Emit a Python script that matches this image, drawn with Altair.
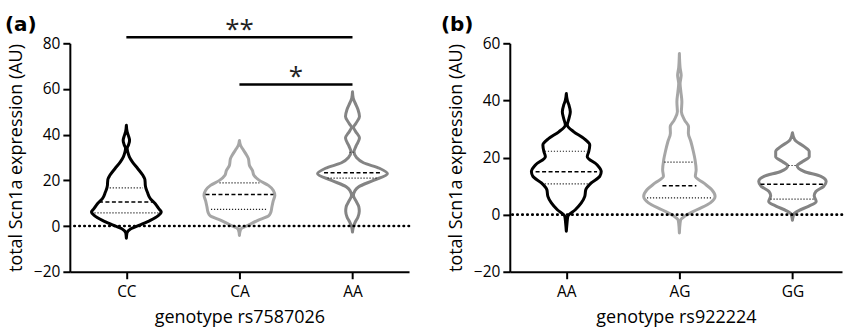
import json
import altair as alt
import pandas as pd

# ---------------- data ----------------
tags = ["(a)", "(b)"]
y_title = "total Scn1a expression (AU)"

# Panel (a): genotype rs7587026
geno_a = ["CC", "CA", "AA"]
xtitle_a = "genotype rs7587026"
cc_val = [-5.3, -3.0, -1.2, 0.3, 2.5, 4.6, 6.1, 7.6, 9.8, 12.0, 14.9, 16.0, 17.8, 19.3, 20.5, 22.2, 25.1, 28.1, 30.3, 32.2, 33.9, 35.6, 37.5, 39.4, 41.2, 44.1]
cc_w = [0, 0.6, 4.5, 12.5, 24, 32, 35, 32.5, 29, 24, 21, 20, 19, 18.8, 18.5, 16.5, 11.5, 6, 3, 1.5, 0.8, 2.2, 3.2, 2.2, 0.8, 0]
ca_val = [-4.1, -2.5, -1.2, 0.3, 2.5, 4.6, 6.1, 8.3, 11.2, 13.4, 15.6, 17.8, 20.0, 22.2, 24.4, 26.6, 29.5, 31.7, 33.9, 35.5, 37.5]
ca_w = [0, 0.5, 1.5, 8.5, 18.5, 29.5, 31.5, 32.5, 34, 35.5, 34, 29, 20, 14.5, 13, 10, 9, 6.3, 3, 1, 0]
aaa_val = [-2.6, -0.5, 1.5, 4.0, 6.5, 8.5, 11.0, 13.4, 15.5, 17.1, 20.0, 22.9, 25.3, 27.7, 30.0, 32.5, 35.0, 38.5, 41.5, 43.2, 45.0, 48.0, 51.0, 54.0, 56.0, 58.8]
aaa_w = [0, 0.8, 2.5, 5.5, 6.8, 6.3, 3.5, 1, 2.5, 6, 21, 35, 27, 11, 4, 1.5, 3.5, 7, 3, 1, 3.5, 7, 5.5, 2.5, 0.7, 0]
# quartiles (q1, median, q3) and their half-widths
qa_val = [[5.8, 10.5, 16.7], [7.3, 13.8, 18.9], [21.0, 23.3, 32.3]]
qa_w = [[32, 27.5, 16.7], [28.5, 34, 20], [25, 28.5, 3]]
# significance bars: from, to, value, label
sig_from = [1, 2]
sig_to = [3, 3]
sig_val = [82.6, 62.0]
sig_lab = ["**", "*"]

# Panel (b): genotype rs922224
geno_b = ["AA", "AG", "GG"]
xtitle_b = "genotype rs922224"
aab_val = [-5.8, -3.0, -0.6, 1.7, 4.1, 6.4, 8.7, 11.1, 13.4, 15.1, 17.4, 20.3, 22.1, 24.4, 26.7, 29.0, 31.4, 33.5, 36.0, 38.5, 40.0, 42.4]
aab_w = [0, 0.7, 1.5, 9, 15, 18.5, 19.5, 25, 33.5, 35, 31, 21, 22.5, 23.5, 17.5, 7.5, 1, 2.5, 4, 2.5, 1, 0]
ag_val = [-6.4, -3.0, -1.7, -0.6, 1.7, 4.1, 6.4, 8.7, 11.1, 13.4, 15.7, 19.2, 22.1, 25.6, 28.5, 30.8, 33.1, 36.0, 39.5, 43.0, 45.9, 48.8, 51.5, 56.4]
ag_w = [0, 0.7, 1.5, 5.2, 17.5, 31, 35.8, 32.5, 24.3, 16, 16.8, 15.7, 14, 11.5, 9, 9.2, 5.2, 2, 2.5, 1.5, 0.7, 1.8, 0.7, 0]
gg_val = [-2.0, -0.8, 0.3, 1.5, 2.9, 4.6, 6.6, 8.1, 9.9, 11.6, 13.4, 15.1, 17.1, 18.6, 20.3, 22.1, 23.8, 26.2, 28.7]
gg_w = [0, 0.6, 1.5, 6.8, 16, 23.8, 21.8, 23.5, 31.3, 33.8, 28.5, 11.8, 4.7, 10.2, 16.8, 16.8, 11.8, 2.3, 0]
qb_val = [[10.8, 15.0, 22.2], [5.9, 10.1, 18.4], [5.4, 10.6, 17.2]]
qb_w = [[21.7, 30.8, 21.5], [32.5, 17, 15], [22, 32, 4]]

colors = ["#000000", "#a6a6a6", "#848484"]

# ---------------- styling ----------------
K = 1.0 / 113.33      # violin half-width -> category units
PX_PER_CAT = 113.33
H = 229
FONT = "Open Sans"


def make_panel(tag, tag_dx, genos, profiles, q_vals, q_ws, y_dom, y_ticks,
               x_title, plot_w, sig=None):
    rows = []
    for i, (g, (vals, ws)) in enumerate(zip(genos, profiles)):
        for v, w in zip(vals, ws):
            rows.append({"g": i + 1, "geno": g, "v": v, "w": w})
    vdf = pd.DataFrame(rows)

    qrows = []
    for i, g in enumerate(genos):
        for j, (v, w) in enumerate(zip(q_vals[i], q_ws[i])):
            qrows.append({"g": i + 1, "geno": g, "v": v, "w": w,
                          "kind": "median" if j == 1 else "quartile"})
    qdf = pd.DataFrame(qrows)

    xs = alt.Scale(domain=[0.5, 0.5 + plot_w / PX_PER_CAT], nice=False, zero=False)
    ys = alt.Scale(domain=y_dom, nice=False, zero=False)
    label_expr = json.dumps(genos).replace('"', "'") + "[datum.value - 1]"
    xax = alt.Axis(values=[1, 2, 3], labelExpr=label_expr, title=x_title)
    yax = alt.Axis(values=y_ticks, title=y_title)

    def X(f):
        return alt.X(f, scale=xs, axis=xax)

    def Y(f):
        return alt.Y(f, scale=ys, axis=yax)

    base = alt.Chart(vdf).transform_calculate(
        left=f"datum.g - datum.w * {K}", right=f"datum.g + datum.w * {K}")

    violins = base.mark_area(
        orient="horizontal", interpolate="monotone", fill="transparent",
        strokeWidth=3, strokeJoin="round", strokeCap="round"
    ).encode(
        y=Y("v:Q"),
        x=X("left:Q"),
        x2="right:Q",
        stroke=alt.Stroke("geno:N", scale=alt.Scale(domain=genos, range=colors), legend=None),
    )

    zero = alt.Chart(pd.DataFrame({"z": [0]})).mark_rule(
        color="black", strokeWidth=2.6, strokeDash=[0.5, 4.5], strokeCap="round"
    ).encode(y=Y("z:Q"))

    qbase = alt.Chart(qdf).transform_calculate(
        left=f"datum.g - datum.w * {K}", right=f"datum.g + datum.w * {K}")
    med = qbase.transform_filter("datum.kind == 'median'").mark_rule(
        color="black", strokeWidth=1.5, strokeDash=[4, 2.5]
    ).encode(x=X("left:Q"), x2="right:Q", y=Y("v:Q"))
    qrt = qbase.transform_filter("datum.kind == 'quartile'").mark_rule(
        color="#222222", strokeWidth=1.2, strokeDash=[1.2, 1.8]
    ).encode(x=X("left:Q"), x2="right:Q", y=Y("v:Q"))

    tag_layer = alt.Chart(pd.DataFrame({"t": [tag]})).mark_text(
        align="left", baseline="middle", fontSize=20, fontWeight="bold",
        font="DejaVu Sans", color="black"
    ).encode(text="t:N", x=alt.value(tag_dx), y=alt.value(-18))

    layers = [violins, zero, med, qrt, tag_layer]

    if sig is not None:
        sdf = pd.DataFrame({"a": sig[0], "b": sig[1], "v": sig[2], "lab": sig[3]})
        bars = alt.Chart(sdf).mark_rule(color="black", strokeWidth=2.5).encode(
            x=X("a:Q"), x2="b:Q", y=Y("v:Q"))
        stars = alt.Chart(sdf).transform_calculate(mid="(datum.a + datum.b) / 2").mark_text(
            align="center", baseline="alphabetic", fontSize=26, font=FONT, dy=1, color="#222222"
        ).encode(x=X("mid:Q"), y=Y("v:Q"), text="lab:N")
        layers += [bars, stars]

    return alt.layer(*layers).properties(width=plot_w, height=H)


panel_a = make_panel(tags[0], -65, geno_a,
                     [(cc_val, cc_w), (ca_val, ca_w), (aaa_val, aaa_w)],
                     qa_val, qa_w, [-20, 80], [-20, 0, 20, 40, 60, 80],
                     xtitle_a, 340, sig=(sig_from, sig_to, sig_val, sig_lab))
panel_b = make_panel(tags[1], -69, geno_b,
                     [(aab_val, aab_w), (ag_val, ag_w), (gg_val, gg_w)],
                     qb_val, qb_w, [-20, 60], [-20, 0, 20, 40, 60],
                     xtitle_b, 333)

chart = alt.hconcat(panel_a, panel_b, spacing=30).resolve_scale(
    x="independent", y="independent", stroke="independent"
).properties(
    padding={"left": 5, "top": 15, "right": 0, "bottom": 1},
    background="white",
).configure_view(stroke=None).configure_axis(
    grid=False, domainColor="black", domainWidth=2, tickColor="black",
    tickWidth=2, tickSize=7, labelFont=FONT, labelFontSize=15.5,
    labelColor="black", titleFont=FONT, titleFontSize=18,
    titleFontWeight="normal", titleColor="black"
).configure_axisY(labelPadding=3, titlePadding=8).configure_axisX(
    labelPadding=6, titlePadding=8)

chart.save("out.html", embed_options={"renderer": "svg", "actions": False})
